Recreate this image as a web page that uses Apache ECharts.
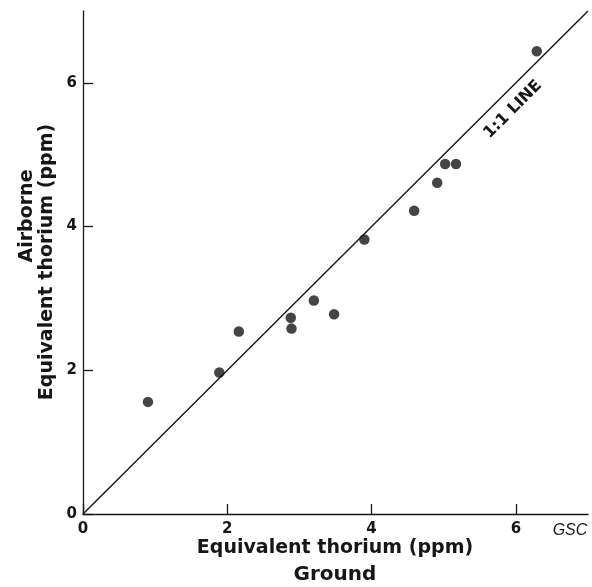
<!DOCTYPE html>
<html><head><meta charset="utf-8">
<script src="https://cdn.jsdelivr.net/npm/echarts@6/dist/echarts.min.js"></script>
<style>html,body{margin:0;padding:0;background:#fff;}#c{width:592px;height:587px;}</style>
</head><body><div id="c"></div>
<script>
// Data
const groundTh   = [0.90, 1.89, 2.16, 2.88, 2.89, 3.20, 3.48, 3.90, 4.59, 4.91, 5.02, 5.17, 6.29];
const airborneTh = [1.56, 1.97, 2.54, 2.73, 2.58, 2.97, 2.78, 3.82, 4.22, 4.61, 4.87, 4.87, 6.44];
const lineX = [0, 7];
const lineY = [0, 7];
const tickValues = [0, 2, 4, 6];
const lineLabel = '1:1 LINE';
const lineLabelAt = [5.96, 5.63];
const xTitle1 = 'Equivalent thorium (ppm)';
const xTitle2 = 'Ground';
const yTitle1 = 'Airborne';
const yTitle2 = 'Equivalent thorium (ppm)';
const credit = 'GSC';

const ink = '#161616';
const FONT = 'DejaVu Sans';
const points = groundTh.map((x, i) => [x, airborneTh[i]]);
const linePts = lineX.map((x, i) => [x, lineY[i]]);

const chart = echarts.init(document.getElementById('c'), null, {renderer: 'canvas'});
function axisCommon() {
  return {
    type: 'value', min: 0, max: 7,
    splitLine: {show: false},
    axisLine: {show: true, onZero: false, lineStyle: {color: ink, width: 1.3}},
    axisTick: {show: true, inside: true, length: 10, customValues: tickValues, lineStyle: {color: ink, width: 1.3}},
    axisLabel: {customValues: tickValues, color: ink, fontFamily: FONT, fontWeight: 'bold', fontSize: 15}
  };
}
const xAxis = axisCommon(); xAxis.axisLabel.margin = 8;
const yAxis = axisCommon(); yAxis.axisLabel.margin = 6;

chart.setOption({
  animation: false,
  backgroundColor: '#fff',
  grid: {left: 83, right: 4, top: 11, bottom: 73, containLabel: false},
  xAxis: xAxis,
  yAxis: yAxis,
  series: [
    {type: 'line', data: linePts, symbol: 'none', lineStyle: {color: ink, width: 1.4}, silent: true},
    {type: 'scatter', data: points, symbol: 'circle', symbolSize: 10.5, itemStyle: {color: ink}}
  ]
});

const lp = chart.convertToPixel({gridIndex: 0}, lineLabelAt);
const txt = (s, x, y, size, rot, extra) => ({
  type: 'text', x: x, y: y, rotation: rot || 0,
  style: Object.assign({text: s, fill: ink, font: 'bold ' + size + 'px "' + FONT + '"', align: 'center', verticalAlign: 'middle'}, extra || {})
});
chart.setOption({
  graphic: [
    txt(lineLabel, lp[0], lp[1], 16, Math.PI / 4),
    txt(xTitle1, 335, 548, 19, 0),
    txt(xTitle2, 335, 575, 20, 0),
    txt(yTitle1, 27, 216, 19, Math.PI / 2),
    txt(yTitle2, 47, 262, 19, Math.PI / 2),
    txt(credit, 570, 531, 16, 0, {font: 'italic 16px "Liberation Sans"'})
  ]
});
</script>
</body></html>
